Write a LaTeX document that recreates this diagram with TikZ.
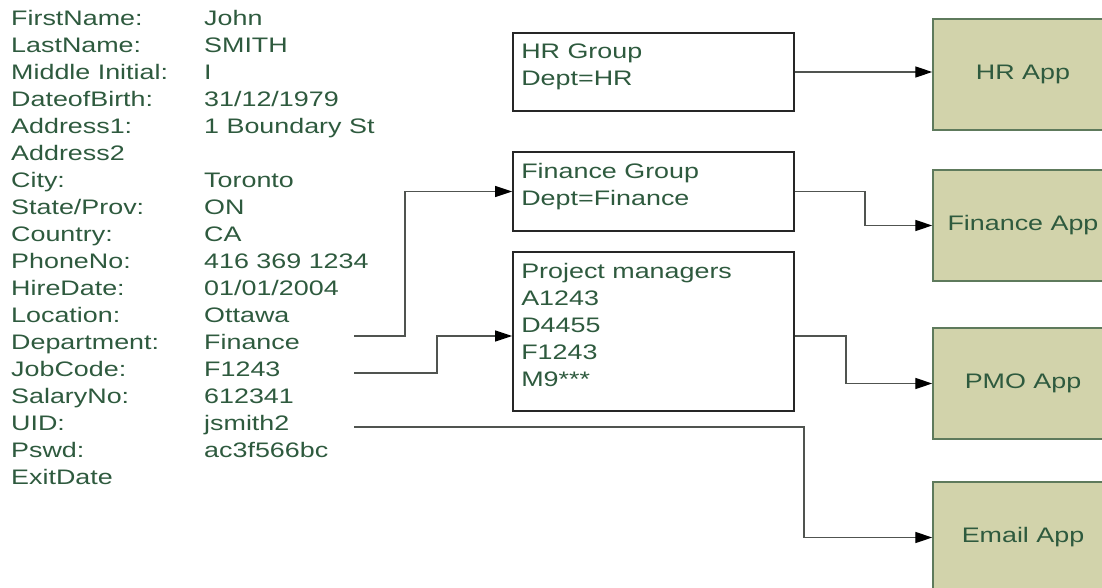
\documentclass[tikz,border=0pt]{standalone}
\usepackage{fontspec}
\setmainfont{Liberation Sans}[FakeStretch=1.28]
\usetikzlibrary{arrows.meta}

\definecolor{txtgreen}{RGB}{46,90,62}
\definecolor{appfill}{RGB}{210,211,171}
\definecolor{appline}{RGB}{94,122,92}
\definecolor{linkgray}{RGB}{80,84,80}

\tikzset{
  field/.style={anchor=north west, inner sep=0pt, align=left, text=txtgreen},
  grpbox/.style={draw=black!85, line width=1.8pt, minimum width=281pt},
  appbox/.style={draw=appline, line width=1.5pt, fill=appfill, minimum width=180pt,
    minimum height=111pt, text=txtgreen},
  link/.style={draw=linkgray, line width=1.4pt, -{Triangle[length=17pt,width=11pt,color=black]}}
}

\begin{document}
\begin{tikzpicture}[x=1pt, y=-1pt, font=\fontsize{21}{27}\selectfont]
\useasboundingbox (0,0) rectangle (1102,588);
\clip (0,0) rectangle (1102,588);

% employee record
\node[field] (names) at (11,10) {FirstName:\\LastName:\\Middle Initial:\\DateofBirth:\\Address1:\\Address2\\City:\\State/Prov:\\Country:\\PhoneNo:\\HireDate:\\Location:\\Department:\\JobCode:\\SalaryNo:\\UID:\\Pswd:\\ExitDate};
\node[field] (values) at (204,10) {John\\SMITH\\I\\31/12/1979\\1 Boundary St\\\mbox{}\\Toronto\\ON\\CA\\416 369 1234\\01/01/2004\\Ottawa\\Finance\\F1243\\612341\\jsmith2\\ac3f566bc};

% groups
\node[grpbox, minimum height=78pt] (hrgrp) at (653.5,72) {};
\node[grpbox, minimum height=79pt] (fingrp) at (653.5,191.5) {};
\node[grpbox, minimum height=159pt] (pmgrp) at (653.5,331.5) {};
\node[field] (hrtxt) at ([shift={(9,12)}]hrgrp.north west) {HR Group\\Dept=HR};
\node[field] (fintxt) at ([shift={(9,12)}]fingrp.north west) {Finance Group\\Dept=Finance};
\node[field] (pmtxt) at ([shift={(9,12)}]pmgrp.north west) {Project managers\\A1243\\D4455\\F1243\\M9***};

% applications
\node[appbox] (hrapp) at (1023,74.5) {HR App};
\node[appbox] (finapp) at (1023,225.5) {Finance App};
\node[appbox] (pmoapp) at (1023,383.5) {PMO App};
\node[appbox] (mailapp) at (1023,537.5) {Email App};

% connectors
\coordinate (dept) at (354,336);
\coordinate (jobcode) at (354,373);
\coordinate (uid) at (354,427);
\draw[link] (dept) -- ++(51,0) |- (fingrp.west);
\draw[link] (jobcode) -- ++(83,0) |- ([yshift=-4.5pt]pmgrp.west);
\draw[link] (uid) -- ++(450,0) |- (mailapp.west);
\draw[link] (hrgrp.east) -- (hrgrp.east -| hrapp.west);
\draw[link] (fingrp.east) -- ++(70,0) |- (finapp.west);
\draw[link] ([yshift=-4.5pt]pmgrp.east) -- ++(51,0) |- (pmoapp.west);
\end{tikzpicture}
\end{document}
